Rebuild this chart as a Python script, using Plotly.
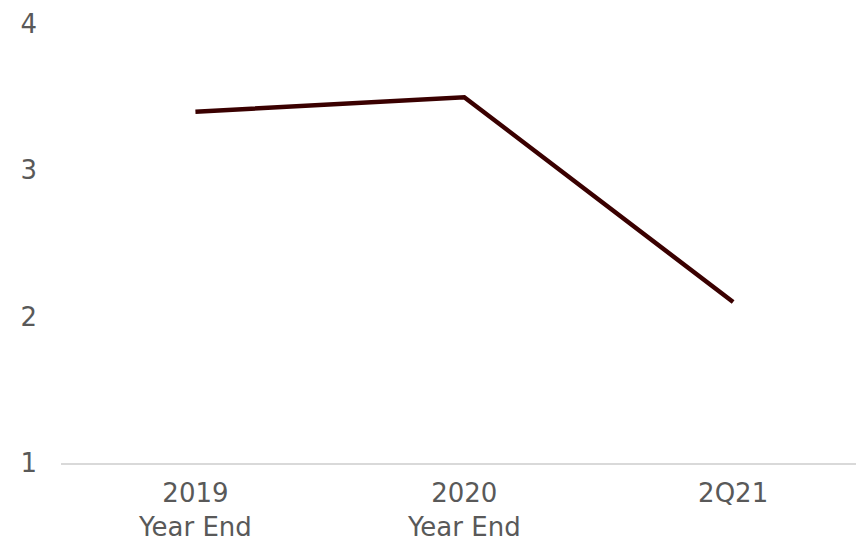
import plotly.graph_objects as go

# chart data
categories = ["2019<br>Year End", "2020<br>Year End", "2Q21"]
values = [3.4, 3.5, 2.1]
y_ticks = [1, 2, 3, 4]

FONT = {"family": "DejaVu Sans, Verdana, sans-serif", "size": 26, "color": "#595959"}

fig = go.Figure()
fig.add_trace(go.Scatter(x=categories,
                         y=values,
                         mode='lines',
                         line={'width': 4.5, 'color': '#3a0000'},
                         hoverinfo='skip'))

fig.update_layout(
    width=856,
    height=542,
    paper_bgcolor='white',
    plot_bgcolor='white',
    showlegend=False,
    font=FONT,
    margin={"l": 61, "r": 0, "t": 24, "b": 79, "autoexpand": False},
    xaxis={
        "type": "category",
        "range": [-0.5, 2.457],
        "showgrid": False,
        "showline": True,
        "linecolor": "#d9d9d9",
        "linewidth": 1.5,
        "ticks": "",
        "tickfont": FONT,
        "ticklabelstandoff": 6,
        "automargin": False,
    },
    yaxis={
        "range": [1, 4],
        "tickvals": y_ticks,
        "showgrid": False,
        "zeroline": False,
        "showline": False,
        "ticks": "",
        "tickfont": FONT,
        "ticklabelstandoff": 23,
        "automargin": False,
    },
)

# drop the browser's default 8px body margin so the figure sits at the top-left corner
fig.write_html("out.html",
               config={"displayModeBar": False},
               post_script="document.body.style.margin='0';")
